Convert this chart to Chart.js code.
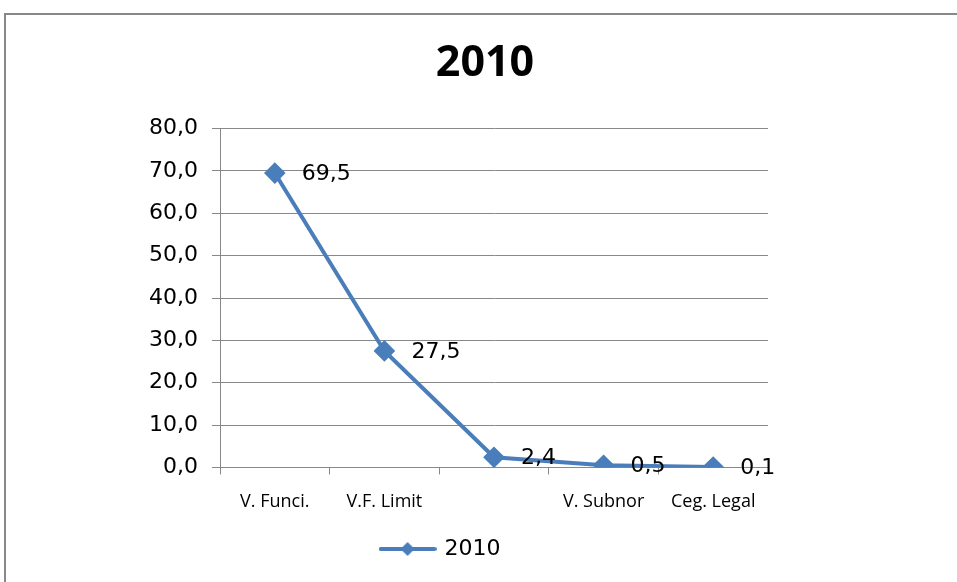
<!DOCTYPE html>
<html>
<head>
<meta charset="utf-8">
<script src="https://cdn.jsdelivr.net/npm/chart.js@4.4.1/dist/chart.umd.min.js"></script>
<style>
    html, body { margin: 0; padding: 0; background: #fff; overflow: hidden; }
    #frame {
        position: absolute; left: 4px; top: 13px; width: 1000px; height: 700px;
        border-left: 2px solid #888; border-top: 2px solid #888;
    }
    #wrap { position: absolute; left: 0; top: 0; width: 957px; height: 582px; }
</style>
</head>
<body>
<div id="frame"></div>
<div id="wrap"><canvas id="chart" width="957" height="582"></canvas></div>
<script>
// Data
const categories = ['V. Funci.', 'V.F. Limit', '', 'V. Subnor', 'Ceg. Legal'];
const values2010 = [69.5, 27.5, 2.4, 0.5, 0.1];
const yTicks = [0, 10, 20, 30, 40, 50, 60, 70, 80];

const blue = '#4A7EBB';
const gray = '#888888';

function fmt(v) {
    return v.toFixed(1).replace('.', ',');
}

// Legend marker: line with a diamond
const legendMark = document.createElement('canvas');
legendMark.width = 58;
legendMark.height = 16;
(function() {
    const c = legendMark.getContext('2d');
    c.strokeStyle = blue;
    c.lineWidth = 4;
    c.lineCap = 'round';
    c.beginPath();
    c.moveTo(2, 8);
    c.lineTo(56, 8);
    c.stroke();
    c.fillStyle = blue;
    c.beginPath();
    c.moveTo(29, 1);
    c.lineTo(36, 8);
    c.lineTo(29, 15);
    c.lineTo(22, 8);
    c.closePath();
    c.fill();
})();

// Value labels beside each point
const valueLabels = {
    id: 'valueLabels',
    afterDatasetsDraw(chart) {
        const ctx = chart.ctx;
        const meta = chart.getDatasetMeta(0);
        ctx.save();
        ctx.font = '22px "DejaVu Sans"';
        ctx.fillStyle = '#000';
        ctx.textAlign = 'left';
        ctx.textBaseline = 'middle';
        meta.data.forEach(function(pt, i) {
            ctx.fillText(fmt(values2010[i]), pt.x + 27, pt.y + 1);
        });
        ctx.restore();
    }
};

// Centre title and legend on the whole frame, not only the plot width
const recentre = {
    id: 'recentre',
    afterLayout(chart) {
        if (chart.titleBlock) {
            chart.titleBlock.left = 0;
            chart.titleBlock.right = 970;
        }
        if (chart.legend) {
            chart.legend.left += 57;
            chart.legend.right += 57;
        }
    }
};

new Chart(document.getElementById('chart'), {
    type: 'line',
    data: {
        labels: categories,
        datasets: [{
            label: '2010',
            data: values2010,
            borderColor: blue,
            backgroundColor: blue,
            borderWidth: 4,
            tension: 0,
            pointStyle: 'rectRot',
            pointRadius: 8,
            pointHoverRadius: 8,
            pointBackgroundColor: blue,
            pointBorderColor: blue
        }]
    },
    options: {
        responsive: false,
        animation: false,
        layout: {
            padding: { left: 0, right: 189, top: 20, bottom: 12 }
        },
        plugins: {
            title: {
                display: true,
                text: '2010',
                color: '#000',
                font: { family: 'Open Sans', size: 43, weight: 'bold' },
                padding: { top: 18, bottom: 39 }
            },
            legend: {
                position: 'bottom',
                labels: {
                    usePointStyle: true,
                    pointStyle: legendMark,
                    pointStyleWidth: 52,
                    boxHeight: 16,
                    color: '#000',
                    font: { family: 'DejaVu Sans', size: 22 },
                    padding: 8
                }
            },
            tooltip: { enabled: false }
        },
        scales: {
            x: {
                offset: true,
                grid: {
                    display: true,
                    drawOnChartArea: false,
                    drawTicks: true,
                    tickLength: 7,
                    color: gray,
                    offset: true
                },
                border: { color: gray, width: 1 },
                ticks: {
                    color: '#000',
                    autoSkip: false,
                    maxRotation: 0,
                    padding: 17,
                    font: { family: 'Open Sans', size: 18 }
                }
            },
            y: {
                min: 0,
                max: 80,
                afterFit: function(scale) { scale.width = 220; },
                afterBuildTicks: function(scale) {
                    scale.ticks = yTicks.map(function(v) { return { value: v }; });
                },
                grid: {
                    color: gray,
                    tickLength: 8
                },
                border: { color: gray, width: 1 },
                ticks: {
                    color: '#000',
                    padding: 14,
                    font: { family: 'DejaVu Sans', size: 22 },
                    callback: function(v) { return fmt(v); }
                }
            }
        }
    },
    plugins: [valueLabels, recentre]
});
</script>
</body>
</html>
